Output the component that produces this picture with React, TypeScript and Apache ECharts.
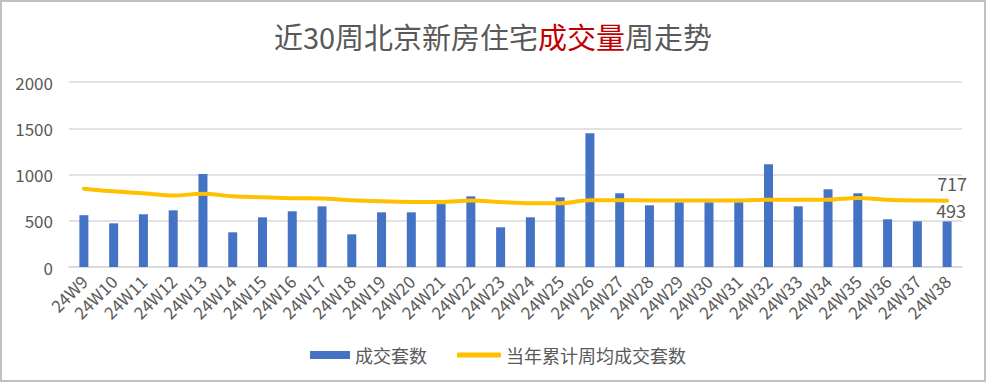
import React, { useEffect, useRef } from "react";
import * as echarts from "echarts";

const categories = [
  "24W9", "24W10", "24W11", "24W12", "24W13", "24W14", "24W15", "24W16", "24W17", "24W18",
  "24W19", "24W20", "24W21", "24W22", "24W23", "24W24", "24W25", "24W26", "24W27", "24W28",
  "24W29", "24W30", "24W31", "24W32", "24W33", "24W34", "24W35", "24W36", "24W37", "24W38",
];
const weeklyDeals = [
  560, 472, 570, 613, 1005, 375, 537, 602, 656, 353,
  591, 591, 680, 764, 429, 537, 753, 1445, 797, 667,
  700, 700, 700, 1110, 656, 840, 797, 516, 494, 493,
];
const avgDeals = [
  847, 818, 797, 772, 793, 764, 753, 743, 740, 721,
  710, 703, 702, 718, 703, 689, 689, 721, 721, 720,
  720, 720, 720, 728, 728, 728, 746, 728, 720, 717,
];
const yTicks = { min: 0, max: 2000, interval: 500 };

const FONT = "'Noto Sans CJK SC', 'Noto Sans', sans-serif";
const GRAY = "#595959";

export default function App() {
  const ref = useRef<HTMLDivElement>(null);
  useEffect(() => {
    document.body.style.margin = "0";
    const chart = echarts.init(ref.current!, null, { renderer: "svg" });
    const lastIdx = categories.length - 1;
    chart.setOption({
      animation: false,
      backgroundColor: "#ffffff",
      textStyle: { fontFamily: FONT },
      title: {
        text: "{g|近30周北京新房住宅}{r|成交量}{g|周走势}",
        left: "center",
        top: 16,
        textStyle: {
          fontWeight: "normal",
          rich: {
            g: { fontSize: 29, color: GRAY, fontFamily: FONT, fontWeight: "normal" },
            r: { fontSize: 29, color: "#C00000", fontFamily: FONT, fontWeight: "normal" },
          },
        },
      },
      grid: { left: 69, right: 24, top: 82, bottom: 115, containLabel: false },
      legend: [
        {
          data: ["成交套数"],
          left: 305,
          top: 341,
          itemWidth: 40,
          itemHeight: 8,
          icon: "rect",
          itemGap: 6,
          textStyle: { fontSize: 18, color: GRAY, fontFamily: FONT },
        },
        {
          data: ["当年累计周均成交套数"],
          left: 452,
          top: 341,
          itemWidth: 44,
          itemHeight: 5,
          icon: "roundRect",
          textStyle: { fontSize: 18, color: GRAY, fontFamily: FONT },
        },
      ],
      xAxis: {
        type: "category",
        data: categories,
        boundaryGap: true,
        axisTick: { show: false },
        axisLine: { lineStyle: { color: "#d9d9d9", width: 1.5 } },
        axisLabel: {
          rotate: 45,
          interval: 0,
          color: GRAY,
          fontSize: 17,
          margin: 11,
          fontFamily: FONT,
        },
      },
      yAxis: {
        type: "value",
        min: yTicks.min,
        max: yTicks.max,
        interval: yTicks.interval,
        axisLine: { show: false },
        axisTick: { show: false },
        splitLine: { lineStyle: { color: "#d9d9d9", width: 1.5 } },
        axisLabel: {
          color: GRAY,
          fontSize: 17,
          margin: 16,
          fontFamily: FONT,
          formatter: (v: number) => String(v),
        },
      },
      series: [
        {
          name: "成交套数",
          type: "bar",
          barWidth: 9,
          itemStyle: { color: "#4472C4" },
          data: weeklyDeals.map((v, i) =>
            i === lastIdx
              ? {
                  value: v,
                  label: {
                    show: true,
                    position: "top",
                    distance: 2,
                    offset: [4, 0],
                    color: GRAY,
                    fontSize: 18,
                    fontFamily: FONT,
                  },
                }
              : v
          ),
        },
        {
          name: "当年累计周均成交套数",
          type: "line",
          smooth: 0.3,
          symbol: "circle",
          symbolSize: 0,
          showSymbol: true,
          lineStyle: { color: "#FFC000", width: 4, cap: "round" },
          itemStyle: { color: "#FFC000" },
          data: avgDeals.map((v, i) =>
            i === lastIdx
              ? {
                  value: v,
                  symbolSize: 1,
                  label: {
                    show: true,
                    position: "top",
                    distance: 8,
                    offset: [5, 0],
                    color: GRAY,
                    fontSize: 18,
                    fontFamily: FONT,
                  },
                }
              : v
          ),
        },
      ],
    });
    return () => chart.dispose();
  }, []);
  return (
    <div style={{ position: "absolute", left: 0, top: 0, width: 986, height: 382 }}>
      <div ref={ref} style={{ position: "absolute", left: 0, top: 0, width: 986, height: 382 }} />
      <div
        style={{
          position: "absolute",
          left: 0,
          top: 0,
          width: 986,
          height: 382,
          boxSizing: "border-box",
          border: "2px solid #c0c0c0",
          pointerEvents: "none",
        }}
      />
    </div>
  );
}
